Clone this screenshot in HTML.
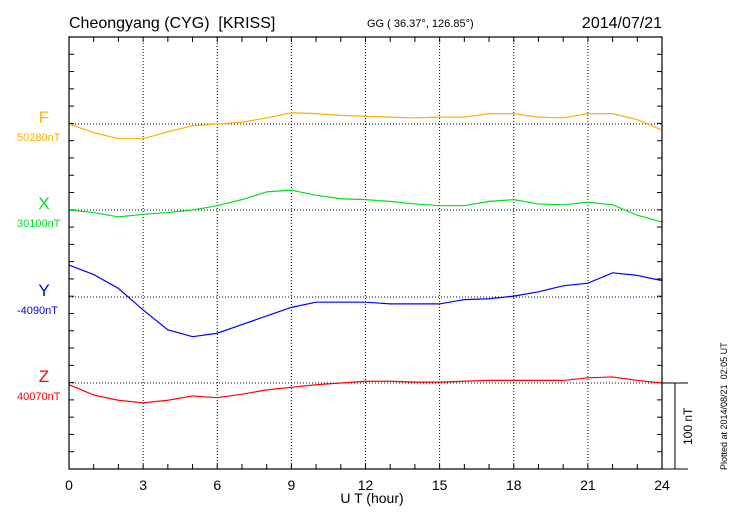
<!DOCTYPE html>
<html><head><meta charset="utf-8"><style>
body{margin:0;background:#fff}
svg{font-family:"Liberation Sans",sans-serif}
text{white-space:pre}
</style></head><body>
<svg id="c" width="730" height="520">
<text x="69" y="28" font-size="16">Cheongyang (CYG)  [KRISS]</text>
<text x="367" y="27" font-size="11">GG ( 36.37°, 126.85°)</text>
<text x="662" y="28" font-size="16" text-anchor="end">2014/07/21</text>
<text x="372" y="503" font-size="14" text-anchor="middle">U T (hour)</text>
<text transform="translate(727,470) rotate(-90)" font-size="9">Plotted at 2014/08/21  02:05 UT</text>
<text transform="translate(692,445) rotate(-90)" font-size="12">100 nT</text>
<g id="g"></g>
</svg>
<script>
const hours=[0,1,2,3,4,5,6,7,8,9,10,11,12,13,14,15,16,17,18,19,20,21,22,23,24];
const fVals=[0,-10,-17,-17,-9,-2,0,2,7,13,12,10,9,8,7,8,8,12,12,8,7,12,12,5,-7];
const xVals=[0,-3,-8,-5,-3,0,5,12,21,23,17,13,12,10,7,5,5,10,12,7,6,9,6,-6,-14];
const yVals=[37,26,10,-15,-38,-46,-42,-32,-22,-12,-6,-6,-6,-8,-8,-8,-3,-2,1,6,13,16,28,25,19];
const zVals=[-2,-14,-20,-23,-20,-15,-17,-13,-8,-5,-2,0,2,2,1,1,2,3,3,3,3,6,7,3,0];
const xTicks=[0,3,6,9,12,15,18,21,24];
const series=[
 {n:"F",v:fVals,c:"#ffb000",lab:"50280nT",base:124},
 {n:"X",v:xVals,c:"#00e020",lab:"30100nT",base:210},
 {n:"Y",v:yVals,c:"#0000ff",lab:"-4090nT",base:297},
 {n:"Z",v:zVals,c:"#ff0000",lab:"40070nT",base:383}];
const L=69,R=662,T=37,B=469,pxnT=0.863;
const sx=h=>L+(R-L)*h/24;
const g=document.getElementById('g');
const NS="http://www.w3.org/2000/svg";
function mk(t,a){const e=document.createElementNS(NS,t);for(const k in a)e.setAttribute(k,a[k]);g.appendChild(e);return e;}
xTicks.forEach(h=>{if(h>0&&h<24){const l=mk('line',{x1:sx(h),x2:sx(h),y1:T,y2:B,stroke:'#000','stroke-dasharray':'1,2','stroke-width':1});

}
const t=mk('text',{x:sx(h),y:490,'font-size':14,'text-anchor':'middle'});t.textContent=h;

});
for(let h=0;h<=24;h++){mk('line',{x1:sx(h),x2:sx(h),y1:T,y2:T+5,stroke:'#000'});mk('line',{x1:sx(h),x2:sx(h),y1:B,y2:B-5,stroke:'#000'});}
for(let y=T+17.28;y<B-1;y+=17.28){mk('line',{x1:L,x2:L+5,y1:y,y2:y,stroke:'#000'});mk('line',{x1:R,x2:R-5,y1:y,y2:y,stroke:'#000'});}
series.forEach(s=>{
 const b=mk('line',{x1:L,x2:R,y1:s.base,y2:s.base,stroke:'#000','stroke-dasharray':'1,2'});
 
 
 const t=mk('text',{x:44,y:s.base-1,'font-size':17,'text-anchor':'middle',fill:s.c});t.textContent=s.n;
 
 
 const t2=mk('text',{x:17,y:s.base+17,'font-size':11,fill:s.c});t2.textContent=s.lab;
 
 
 const p=mk('polyline',{points:hours.map((h,i)=>sx(h)+','+(s.base-s.v[i]*pxnT)).join(' '),fill:'none',stroke:s.c,'stroke-width':1.2});
 
 
});
const fr=mk('rect',{x:L,y:T,width:R-L,height:B-T,fill:'none',stroke:'#000','stroke-width':1.2});


mk('line',{x1:R,x2:688,y1:B,y2:B,stroke:'#000'});
mk('line',{x1:R,x2:688,y1:383,y2:383,stroke:'#000'});
const sb=mk('line',{x1:675,x2:675,y1:383,y2:B,stroke:'#000'});


</script>
</body></html>
